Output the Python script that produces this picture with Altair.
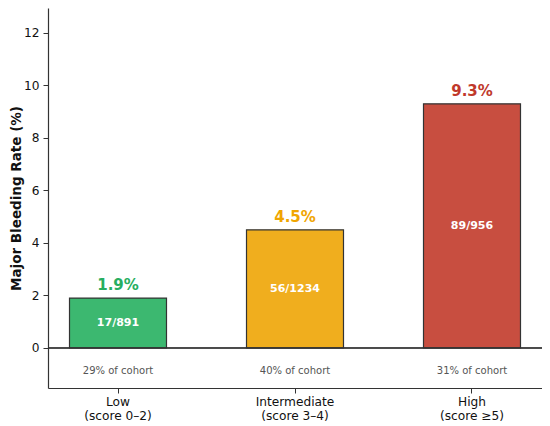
import altair as alt
import pandas as pd

categories = ["Low", "Intermediate", "High"]
subtitles = ["(score 0\u20132)", "(score 3\u20134)", "(score \u22655)"]
rates = [1.9, 4.5, 9.3]
counts = ["17/891", "56/1234", "89/956"]
cohort = ["29% of cohort", "40% of cohort", "31% of cohort"]
bar_colors = ["#3CB870", "#F0AE1E", "#C84E40"]
text_colors = ["#27AE60", "#F0A500", "#C0392B"]

df = pd.DataFrame({
    "cat": [f"{c}\n{s}" for c, s in zip(categories, subtitles)],
    "rate": rates,
    "count": counts,
    "cohort": cohort,
    "bar_color": bar_colors,
    "text_color": text_colors,
    "pct": [f"{r:.1f}%" for r in rates],
})

FONT = "DejaVu Sans"
order = list(df["cat"])

x = alt.X("cat:N", sort=order, title=None,
          scale=alt.Scale(paddingInner=0.452, paddingOuter=0.1215),
          axis=alt.Axis(labelExpr="split(datum.label, '\\n')", labelAngle=0,
                        labelFontSize=12.2, labelColor="#111", labelFont=FONT,
                        labelLineHeight=14, labelPadding=2, tickSize=5,
                        tickColor="#333", domainColor="#333", domainWidth=1.2,
                        labelBaseline="top"))
y = alt.Y("rate:Q", title="Major Bleeding Rate (%)",
          scale=alt.Scale(domain=[-1.524, 12.952], nice=False, zero=False),
          axis=alt.Axis(values=[0, 2, 4, 6, 8, 10, 12], grid=False,
                        labelFontSize=12.2, labelColor="#111", labelFont=FONT,
                        tickSize=5, tickColor="#333", domainColor="#333",
                        domainWidth=1.2, titleFont=FONT, titleFontSize=13.5,
                        titleFontWeight="bold", titleColor="#111",
                        titlePadding=0, labelPadding=4))

base = alt.Chart(df)

bars = base.mark_bar(stroke="#333333", strokeWidth=1.2).encode(
    x=x, y=y, y2=alt.datum(0),
    color=alt.Color("bar_color:N", scale=None),
)

zero = base.mark_rule(color="#333333", strokeWidth=1).encode(
    y=alt.datum(0), x=alt.value(0), x2=alt.value(494)
)

pct = base.mark_text(font=FONT, fontSize=15, fontWeight="bold",
                     baseline="alphabetic", dy=-8).encode(
    x=alt.X("cat:N", sort=order), y="rate:Q",
    text="pct:N", color=alt.Color("text_color:N", scale=None),
)

cnt = base.transform_calculate(mid="datum.rate / 2").mark_text(
    font=FONT, fontSize=11, fontWeight="bold", color="white",
    baseline="middle").encode(
    x=alt.X("cat:N", sort=order), y="mid:Q", text="count:N",
)

coh = base.mark_text(font=FONT, fontSize=10, color="#555555",
                     baseline="middle").encode(
    x=alt.X("cat:N", sort=order), y=alt.datum(-0.88), text="cohort:N",
)

chart = alt.layer(bars, zero, pct, cnt, coh).properties(
    width=494, height=380,
    background="white",
    autosize=alt.AutoSizeParams(type="none"),
    padding={"left": 40, "top": 0, "right": 0, "bottom": 38},
).configure_view(stroke=None)

chart.save("out.html", embed_options={"renderer": "svg", "actions": False})
